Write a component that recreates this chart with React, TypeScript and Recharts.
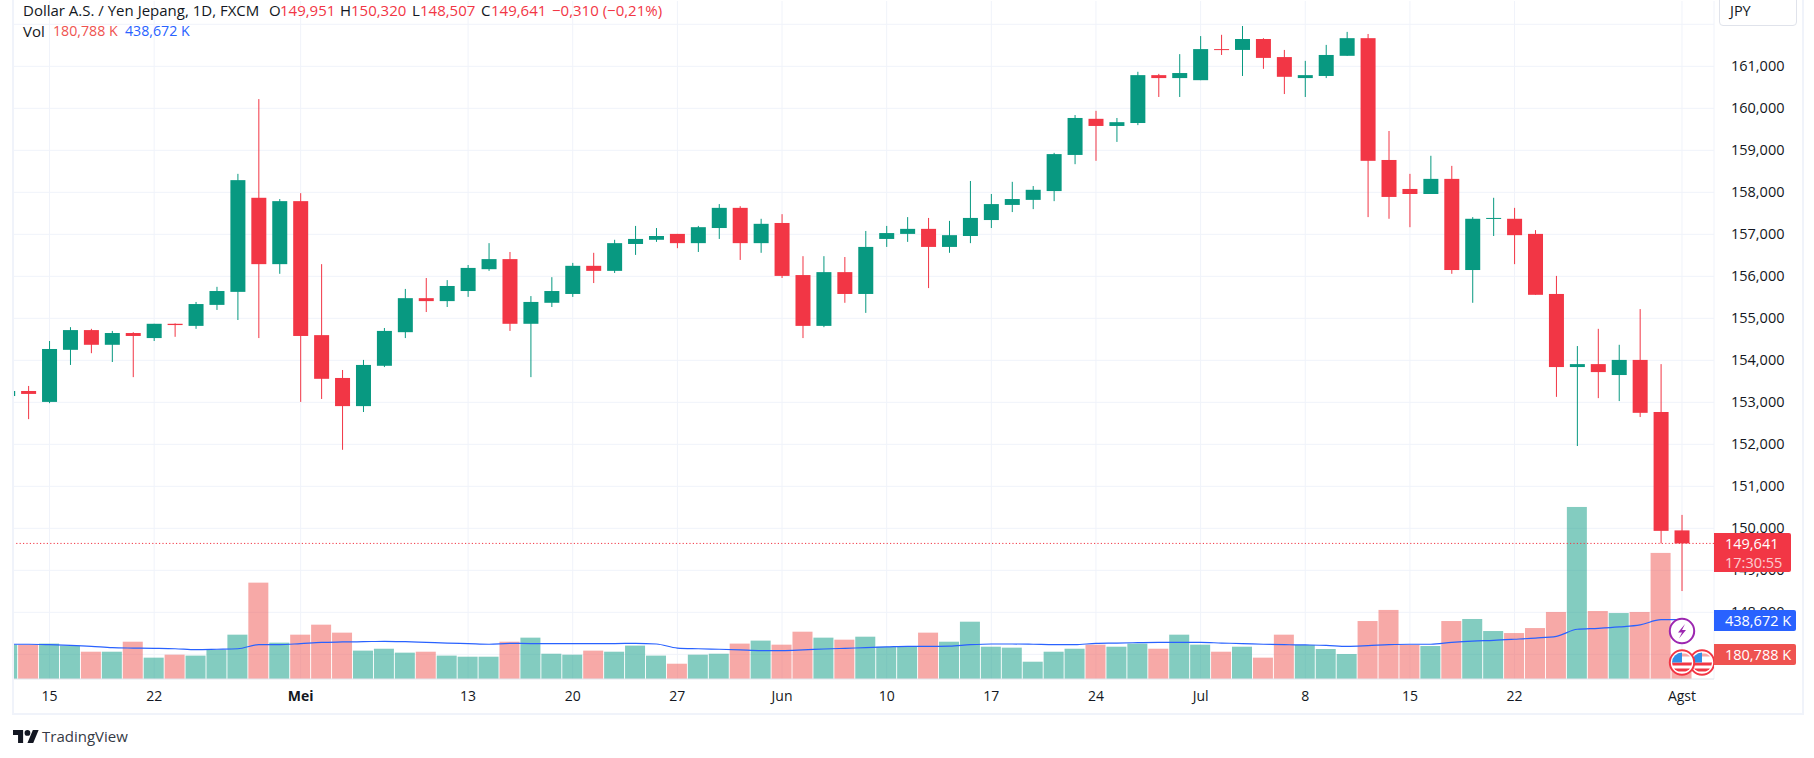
import { Bar, CartesianGrid, ComposedChart, Line, ReferenceLine, XAxis, YAxis } from 'recharts';

const opens = [153.15, 153.27, 153.01, 154.25, 154.72, 154.37, 154.65, 154.53, 154.87, 154.82, 155.32, 155.63, 157.87, 156.29, 157.79, 154.60, 153.58, 152.91, 153.87, 154.67, 155.48, 155.41, 155.65, 156.17, 156.41, 154.87, 155.37, 155.58, 156.25, 156.13, 156.77, 156.87, 157.01, 156.79, 157.15, 157.63, 156.79, 157.27, 156.03, 154.82, 156.10, 155.58, 156.89, 157.01, 157.13, 156.70, 156.96, 157.34, 157.70, 157.82, 158.03, 158.89, 159.75, 159.58, 159.65, 160.79, 160.72, 160.67, 161.41, 161.39, 161.65, 161.22, 160.72, 160.77, 161.25, 161.67, 158.77, 158.08, 157.96, 158.32, 156.15, 157.37, 157.37, 157.01, 155.58, 153.84, 153.91, 153.65, 154.01, 152.77, 149.951];
const highs = [153.27, 153.39, 154.46, 154.79, 154.75, 154.70, 154.67, 154.87, 154.88, 155.39, 155.75, 158.44, 160.22, 157.84, 157.98, 156.29, 153.77, 154.01, 154.77, 155.70, 155.96, 155.91, 156.27, 156.79, 156.58, 155.53, 155.98, 156.32, 156.56, 156.87, 157.20, 157.15, 157.01, 157.20, 157.72, 157.67, 157.37, 157.48, 156.48, 156.48, 156.46, 157.08, 157.20, 157.41, 157.39, 157.32, 158.27, 157.96, 158.25, 158.15, 158.94, 159.84, 159.94, 159.77, 160.87, 160.82, 161.29, 161.72, 161.75, 161.96, 161.67, 161.39, 161.13, 161.51, 161.82, 161.77, 159.46, 158.44, 158.87, 158.63, 157.41, 157.87, 157.63, 157.10, 156.01, 154.34, 154.75, 154.37, 155.22, 153.91, 150.32];
const lows = [153.15, 152.60, 152.98, 153.89, 154.17, 153.96, 153.60, 154.46, 154.56, 154.75, 155.20, 154.96, 154.53, 156.06, 153.01, 153.08, 151.87, 152.77, 153.84, 154.53, 155.15, 155.27, 155.51, 156.13, 154.70, 153.60, 155.27, 155.51, 155.84, 156.08, 156.51, 156.82, 156.67, 156.58, 156.89, 156.39, 156.56, 155.96, 154.53, 154.79, 155.37, 155.13, 156.70, 156.82, 155.72, 156.56, 156.79, 157.15, 157.53, 157.60, 157.79, 158.67, 158.75, 159.20, 159.60, 160.27, 160.27, 160.67, 161.27, 160.77, 160.94, 160.34, 160.27, 160.72, 161.25, 157.41, 157.37, 157.17, 157.96, 156.06, 155.37, 156.96, 156.29, 155.56, 153.13, 151.96, 153.10, 153.03, 152.65, 149.64, 148.507];
const closes = [153.27, 153.20, 154.27, 154.72, 154.37, 154.65, 154.58, 154.87, 154.84, 155.34, 155.65, 158.29, 156.29, 157.79, 154.58, 153.56, 152.91, 153.89, 154.70, 155.48, 155.41, 155.77, 156.20, 156.41, 154.87, 155.39, 155.65, 156.25, 156.13, 156.79, 156.89, 156.96, 156.79, 157.17, 157.63, 156.79, 157.25, 156.01, 154.82, 156.10, 155.58, 156.70, 157.03, 157.13, 156.70, 156.98, 157.39, 157.72, 157.84, 158.06, 158.91, 159.77, 159.58, 159.67, 160.79, 160.72, 160.84, 161.41, 161.39, 161.65, 161.20, 160.75, 160.79, 161.27, 161.67, 158.75, 157.89, 157.96, 158.32, 156.15, 157.37, 157.39, 156.98, 155.56, 153.84, 153.91, 153.72, 154.01, 152.75, 149.94, 149.641];
const volumes = [254, 254, 262, 247, 202, 202, 276, 158, 180, 173, 217, 328, 713, 269, 328, 402, 343, 210, 224, 195, 202, 173, 165, 165, 276, 306, 187, 180, 210, 202, 247, 173, 113, 180, 187, 262, 284, 254, 350, 306, 291, 313, 239, 239, 343, 276, 424, 239, 232, 128, 202, 224, 254, 239, 262, 224, 328, 254, 202, 239, 158, 328, 252, 222, 185, 429, 511, 252, 244, 429, 444, 355, 340, 377, 496, 1273, 503, 488, 496, 933, 180.788];
const volumeMa = [257, 257, 254, 249, 242, 232, 229, 227, 224, 217, 220, 224, 254, 254, 262, 271, 274, 276, 279, 276, 271, 266, 262, 257, 264, 262, 262, 262, 262, 262, 264, 259, 229, 224, 220, 215, 210, 210, 215, 222, 227, 232, 237, 242, 242, 244, 254, 259, 259, 257, 254, 254, 264, 266, 269, 271, 271, 271, 266, 262, 257, 254, 252, 249, 242, 247, 254, 257, 257, 271, 281, 286, 294, 303, 316, 368, 375, 385, 400, 439, 438.672];

const timeTicks = [0, 5, 12, 20, 25, 30, 35, 40, 45, 50, 55, 60, 65, 70, 78];
const timeLabels = ['15', '22', 'Mei', '13', '20', '27', 'Jun', '10', '17', '24', 'Jul', '8', '15', '22', 'Agst'];
const priceGrid = [147, 148, 149, 150, 151, 152, 153, 154, 155, 156, 157, 158, 159, 160, 161, 162];
const priceTicks = [148, 149, 150, 151, 152, 153, 154, 155, 156, 157, 158, 159, 160, 161];
const lastPrice = 149.641;

const UP = '#089981';
const DOWN = '#f23645';
const FONT = '"Open Sans", sans-serif';
const TEXT = '#131722';

const chartData = opens.map((open, i) => ({
  slot: i - 2,
  open,
  high: highs[i],
  low: lows[i],
  close: closes[i],
  range: [lows[i], highs[i]],
  volume: volumes[i],
  ma: volumeMa[i],
}));

const Candle = (props: any) => {
  const { x, y, width, height, payload } = props;
  const perUnit = height / (payload.high - payload.low);
  const up = payload.close >= payload.open;
  const color = up ? UP : DOWN;
  const bodyTop = y + (payload.high - Math.max(payload.open, payload.close)) * perUnit;
  const bodyBottom = y + (payload.high - Math.min(payload.open, payload.close)) * perUnit;
  return (
    <g>
      <rect x={x + width / 2 - 0.5} y={y} width={1} height={height} fill={color} />
      <rect x={x} y={bodyTop} width={width} height={Math.max(bodyBottom - bodyTop, 1)} fill={color} />
    </g>
  );
};

const VolumeBar = (props: any) => {
  const { x, y, width, height, payload } = props;
  const color = payload.close >= payload.open ? UP : '#ef5350';
  return <rect x={x} y={y} width={width} height={height} fill={color} fillOpacity={0.5} />;
};

const TimeTick = (props: any) => {
  const { x, y, payload } = props;
  const label = timeLabels[timeTicks.indexOf(payload.value)];
  const weight = label === 'Mei' ? 700 : label === 'Jun' || label === 'Jul' || label === 'Agst' ? 500 : 400;
  return (
    <text x={x} y={y} dy={14} textAnchor="middle" fontFamily={FONT} fontSize={14} fontWeight={weight} fill={TEXT}>
      {label}
    </text>
  );
};

const legendText = (left: number, top: number, color: string, text: string, fontSize = 15) => (
  <span style={{ position: 'absolute', left, top, color, fontSize, whiteSpace: 'nowrap' }}>{text}</span>
);

const axisBox = (top: number, height: number, width: number, background: string, lines: string[]) => (
  <div
    style={{
      position: 'absolute', left: 1714, top, width, height, background, color: '#fff',
      borderRadius: '0 2px 2px 0', fontSize: 14.5, lineHeight: '19px', paddingLeft: 11, boxSizing: 'border-box',
      display: 'flex', flexDirection: 'column', justifyContent: 'center', whiteSpace: 'nowrap',
    }}
  >
    {lines.map((line, i) => (
      <span key={line} style={{ opacity: i === 0 ? 1 : 0.75 }}>{line}</span>
    ))}
  </div>
);

const UsFlag = ({ cx, cy, id }: { cx: number; cy: number; id: string }) => (
  <g>
    <clipPath id={id}><circle cx={cx} cy={cy} r={10} /></clipPath>
    <circle cx={cx} cy={cy} r={12.5} fill="#fff" />
    <g clipPath={`url(#${id})`}>
      <rect x={cx - 1} y={cy - 9} width={12} height={3} fill="#f7a9a9" />
      <rect x={cx - 11} y={cy} width={22} height={3} fill="#f23645" />
      <rect x={cx - 11} y={cy + 6} width={22} height={3} fill="#f23645" />
      <rect x={cx - 11} y={cy - 11} width={11} height={11} fill="#2f8fe8" />
    </g>
    <circle cx={cx} cy={cy} r={12.2} fill="none" stroke="#f23645" strokeWidth={2} />
  </g>
);

export default function App() {
  return (
    <div style={{ position: 'absolute', left: 0, top: 0, width: 1814, height: 758, overflow: 'hidden', background: '#fff', fontFamily: FONT }}>
      <ComposedChart
        width={1814}
        height={758}
        data={chartData}
        margin={{ top: 1, right: 13, bottom: 45, left: 13.4 }}
      >
        <CartesianGrid xAxisId="time" yAxisId="price" stroke="#f0f3fa" strokeWidth={1} horizontalValues={priceGrid} />
        <XAxis
          xAxisId="time"
          dataKey="slot"
          type="number"
          domain={[-1.725, 79.53]}
          allowDataOverflow
          ticks={timeTicks}
          interval={0}
          height={34}
          tickLine={false}
          axisLine={{ stroke: '#e0e3eb' }}
          tick={<TimeTick />}
        />
        <XAxis xAxisId="vol" dataKey="slot" type="number" domain={[-1.725, 79.53]} allowDataOverflow hide height={0} />
        <YAxis
          yAxisId="price"
          orientation="right"
          width={87}
          domain={[146.413, 162.555]}
          allowDataOverflow
          ticks={priceTicks}
          interval={0}
          tickLine={false}
          axisLine={false}
          tickMargin={11}
          dy={-0.5}
          tick={{ fontFamily: FONT, fontSize: 14.5, fill: TEXT }}
          tickFormatter={(v: number) => v.toFixed(3).replace('.', ',')}
        />
        <YAxis yAxisId="volume" orientation="right" domain={[0, 5017]} allowDataOverflow hide width={0} />
        <Bar xAxisId="vol" yAxisId="volume" dataKey="volume" barSize={20} shape={<VolumeBar />} isAnimationActive={false} />
        <Line xAxisId="vol" yAxisId="volume" dataKey="ma" type="monotone" stroke="#2962ff" strokeWidth={1.2} dot={false} activeDot={false} isAnimationActive={false} />
        <ReferenceLine xAxisId="time" yAxisId="price" y={lastPrice} stroke={DOWN} strokeWidth={1} strokeDasharray="1.2 2.2" />
        <Bar xAxisId="time" yAxisId="price" dataKey="range" barSize={15} shape={<Candle />} isAnimationActive={false} />
      </ComposedChart>

      {/* pane frame */}
      <div style={{ position: 'absolute', left: 12, top: -4, width: 1788, height: 715, border: '2px solid #f0f3fa', boxSizing: 'content-box', pointerEvents: 'none' }} />

      {/* legend */}
      <div style={{ position: 'absolute', left: 0, top: 0, fontSize: 15, lineHeight: '20px' }}>
        {legendText(23, 0, TEXT, 'Dollar A.S. / Yen Jepang, 1D, FXCM')}
        {legendText(269, 0, TEXT, 'O')}
        {legendText(280, 0, DOWN, '149,951')}
        {legendText(340, 0, TEXT, 'H')}
        {legendText(351, 0, DOWN, '150,320')}
        {legendText(412, 0, TEXT, 'L')}
        {legendText(420, 0, DOWN, '148,507')}
        {legendText(481, 0, TEXT, 'C')}
        {legendText(491, 0, DOWN, '149,641')}
        {legendText(552, 0, DOWN, '−0,310 (−0,21%)')}
        {legendText(23, 21, TEXT, 'Vol')}
        {legendText(53, 21, '#ef5350', '180,788 K', 14.2)}
        {legendText(125, 21, '#2962ff', '438,672 K', 14.2)}
      </div>

      {/* currency button */}
      <div style={{ position: 'absolute', left: 1719, top: -6, width: 78, height: 32, background: '#fff', border: '1px solid #e0e3eb', borderRadius: 4, boxSizing: 'border-box', fontSize: 14.5, color: TEXT, paddingLeft: 10, paddingTop: 6 }}>
        JPY
      </div>

      {/* event markers */}
      <svg width={1714} height={758} style={{ position: 'absolute', left: 0, top: 0, pointerEvents: 'none' }}>
        <circle cx={1682} cy={631} r={12.2} fill="#fff" stroke="#9c27b0" strokeWidth={2} />
        <path d="M1685 624 L1678 632.5 L1682 632.5 L1679 638.5 L1686 630 L1682 630 Z" fill="#9c27b0" />
        <UsFlag cx={1702} cy={662.5} id="flagB" />
        <UsFlag cx={1682} cy={662.5} id="flagA" />
      </svg>

      {axisBox(533, 39, 77, DOWN, ['149,641', '17:30:55'])}
      {axisBox(610, 21, 82, '#2962ff', ['438,672 K'])}
      {axisBox(644, 21, 82, '#ef5350', ['180,788 K'])}

      {/* logo */}
      <svg width={26} height={13} viewBox="0 4 36 18" style={{ position: 'absolute', left: 12.5, top: 730 }}>
        <path d="M14 22H7V11H0V4h14v18zM28 22h-8l7.5-18h8L28 22z" fill={TEXT} />
        <circle cx={20} cy={8} r={4} fill={TEXT} />
      </svg>
      <div style={{ position: 'absolute', left: 42, top: 726, fontSize: 15, lineHeight: '20px', color: '#363a45' }}>TradingView</div>
    </div>
  );
}
